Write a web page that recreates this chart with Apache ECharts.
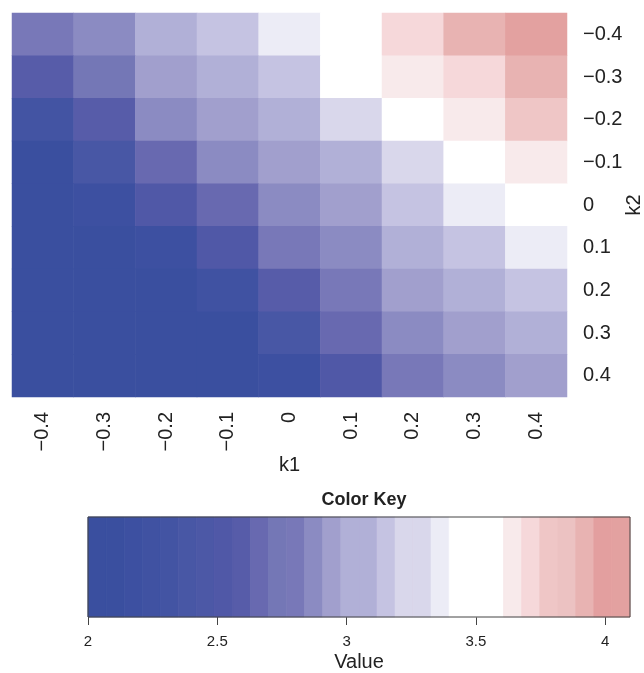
<!DOCTYPE html>
<html><head><meta charset="utf-8">
<script src="https://cdn.jsdelivr.net/npm/echarts@6/dist/echarts.min.js"></script>
<style>html,body{margin:0;padding:0;background:#fff}#c{width:644px;height:673px}</style>
</head><body><div id="c"></div>
<script>
// k1 categories (columns, left to right)
const k1Labels = ['−0.4', '−0.3', '−0.2', '−0.1', '0', '0.1', '0.2', '0.3', '0.4'];
// k2 categories (rows, top to bottom)
const k2Labels = ['−0.4', '−0.3', '−0.2', '−0.1', '0', '0.1', '0.2', '0.3', '0.4'];

// cell values, one row per k2 (top to bottom), columns follow k1
const rowK2m04 = [2.80, 2.87, 3.05, 3.15, 3.36, 3.50, 3.71, 3.90, 4.09];
const rowK2m03 = [2.59, 2.73, 2.94, 3.03, 3.15, 3.47, 3.64, 3.71, 3.92];
const rowK2m02 = [2.30, 2.60, 2.87, 2.95, 3.06, 3.26, 3.55, 3.65, 3.80];
const rowK2m01 = [2.12, 2.38, 2.66, 2.88, 2.96, 3.09, 3.30, 3.58, 3.66];
const rowK2z00 = [2.07, 2.18, 2.52, 2.67, 2.86, 2.94, 3.16, 3.37, 3.45];
const rowK2p01 = [2.04, 2.09, 2.19, 2.50, 2.79, 2.89, 3.04, 3.17, 3.36];
const rowK2p02 = [2.02, 2.05, 2.10, 2.26, 2.58, 2.78, 2.93, 3.07, 3.14];
const rowK2p03 = [2.01, 2.03, 2.06, 2.11, 2.39, 2.67, 2.86, 2.95, 3.02];
const rowK2p04 = [2.00, 2.01, 2.02, 2.08, 2.16, 2.53, 2.80, 2.87, 2.92];
const rows = [rowK2m04, rowK2m03, rowK2m02, rowK2m01, rowK2z00, rowK2p01, rowK2p02, rowK2p03, rowK2p04];

// colour key: bin breaks and colours
const keyBreaks = [2.000, 2.070, 2.140, 2.210, 2.280, 2.349, 2.419, 2.489, 2.559, 2.629,
  2.699, 2.769, 2.838, 2.908, 2.978, 3.048, 3.118, 3.188, 3.258, 3.327,
  3.397, 3.467, 3.537, 3.607, 3.677, 3.747, 3.816, 3.886, 3.956, 4.026, 4.096];
const keyColors = ['#3a4f9f', '#3a4f9f', '#3d50a1', '#4052a2', '#4354a3', '#4857a5', '#4c58a6', '#5058a7', '#575ca9', '#6869b0',
  '#7477b6', '#7878b8', '#8b8bc2', '#a19fcd', '#b1b0d7', '#b1b0d7', '#c5c3e2', '#d9d7eb', '#d9d7eb', '#ececf6',
  '#ffffff', '#ffffff', '#ffffff', '#f8eaeb', '#f6d8da', '#efc6c6', '#ecc2c2', '#e8b3b2', '#e39f9f', '#e3a1a0'];
const keyTicks = [2, 2.5, 3, 3.5, 4];

const heatData = [];
rows.forEach((row, j) => row.forEach((v, i) => heatData.push([i, j, v])));
const pieces = keyColors.map((c, i) => (i === keyColors.length - 1)
  ? { gte: keyBreaks[i], lte: keyBreaks[i + 1], color: c }
  : { gte: keyBreaks[i], lt: keyBreaks[i + 1], color: c });
const keyData = keyColors.map((c, i) => [keyBreaks[i], keyBreaks[i + 1], i]);

const txt = '#222';
const font = 'Liberation Sans, Arial, sans-serif';
const chart = echarts.init(document.getElementById('c'), null, { renderer: 'canvas' });
chart.setOption({
  animation: false,
  textStyle: { fontFamily: font, color: txt },
  title: {
    text: 'Color Key', left: 359, top: 486, textAlign: 'center',
    textStyle: { fontSize: 18, fontWeight: 'bold', color: txt, fontFamily: font }
  },
  visualMap: { type: 'piecewise', show: false, seriesIndex: 0, pieces: pieces },
  grid: [
    { left: 12, top: 13, width: 555, height: 384, outerBoundsMode: 'none', containLabel: false },
    { left: 88, top: 517, width: 542, height: 100, show: true, borderColor: '#444', borderWidth: 1, backgroundColor: 'transparent', z: 5, outerBoundsMode: 'none', containLabel: false }
  ],
  xAxis: [
    {
      type: 'category', gridIndex: 0, data: k1Labels, position: 'bottom',
      axisLine: { show: false }, axisTick: { show: false }, splitLine: { show: false },
      axisLabel: { rotate: 90, fontSize: 20, margin: 15, color: txt },
      name: 'k1', nameLocation: 'middle', nameGap: 58, nameMoveOverlap: false, nameTextStyle: { fontSize: 20, color: txt }
    },
    {
      type: 'value', gridIndex: 1, min: keyBreaks[0], max: keyBreaks[keyBreaks.length - 1],
      axisLine: { show: false }, splitLine: { show: false },
      axisTick: { show: true, length: 8, lineStyle: { color: '#444' }, customValues: keyTicks },
      axisLabel: { customValues: keyTicks, fontSize: 15, margin: 17, color: txt },
      name: 'Value', nameLocation: 'middle', nameGap: 35, nameMoveOverlap: false, nameTextStyle: { fontSize: 20, color: txt }
    }
  ],
  yAxis: [
    {
      type: 'category', gridIndex: 0, data: k2Labels, inverse: true, position: 'right',
      axisLine: { show: false }, axisTick: { show: false }, splitLine: { show: false },
      axisLabel: { fontSize: 20, margin: 16, color: txt },
      name: 'k2', nameLocation: 'middle', nameGap: 57, nameRotate: 90, nameMoveOverlap: false, nameTextStyle: { fontSize: 20, color: txt }
    },
    { type: 'value', gridIndex: 1, min: 0, max: 1, show: false }
  ],
  series: [
    {
      type: 'heatmap', xAxisIndex: 0, yAxisIndex: 0, data: heatData,
      itemStyle: { borderWidth: 0 }, emphasis: { disabled: true }
    },
    {
      type: 'custom', xAxisIndex: 1, yAxisIndex: 1, data: keyData,
      encode: { x: [0, 1] },
      renderItem: function (params, api) {
        const p0 = api.coord([api.value(0), 1]);
        const p1 = api.coord([api.value(1), 0]);
        const c = keyColors[api.value(2)];
        return {
          type: 'rect',
          shape: { x: p0[0], y: p0[1], width: p1[0] - p0[0], height: p1[1] - p0[1] },
          style: { fill: c, stroke: c, lineWidth: 0.8 }
        };
      }
    }
  ]
});
</script></body></html>
